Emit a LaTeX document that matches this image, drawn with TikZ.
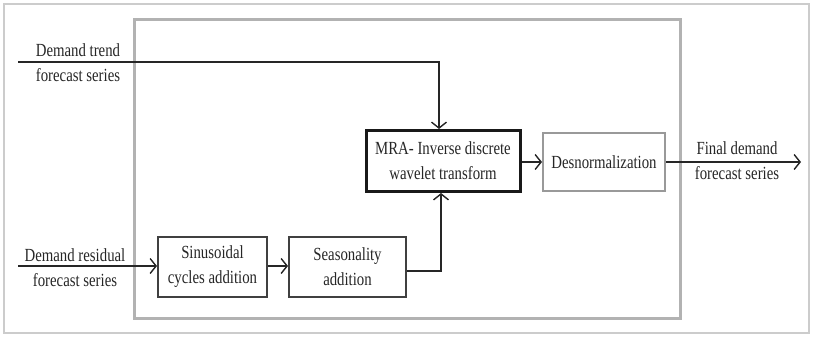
\documentclass[tikz,border=0pt]{standalone}
\usepackage{fontspec}
\setmainfont[FakeStretch=0.8]{Liberation Serif}
\usetikzlibrary{arrows.meta}
\begin{document}
\begin{tikzpicture}[x=1pt,y=-1pt,
  every node/.style={font=\fontsize{18.5}{25}\selectfont, text=black!85, align=center, inner sep=0pt},
  box/.style={draw=black!75, line width=2pt, rectangle},
  lbl/.style={},
  conn/.style={draw=black!85, line width=1.4pt},
  arr/.style={conn, -{Straight Barb[length=6pt,width=15pt,line width=1.4pt]}}]
\useasboundingbox (0,0) rectangle (813,337);
\draw[gray!40, line width=1.5pt] (4,4) rectangle (809,333);
\draw[gray!60, line width=3pt] (134,20) rectangle (680,318);
% boxes
\node[box, draw=black!90, line width=3pt, minimum width=154pt, minimum height=61pt] (mra) at (443,161) {MRA- Inverse discrete\\wavelet transform};
\node[box, draw=gray!80, minimum width=122pt, minimum height=58pt] (desn) at (604,162) {Desnormalization};
\node[box, minimum width=109pt, minimum height=60pt] (sin) at (212.5,267) {Sinusoidal\\cycles addition};
\node[box, minimum width=117pt, minimum height=60pt] (seas) at (347.5,267) {Seasonality\\addition};
% labels
\node[lbl] (ltrend) at (78,62.5) {Demand trend\\forecast series};
\node[lbl] (lres) at (75,267.5) {Demand residual\\forecast series};
\node[lbl] (lout) at (737,160.5) {Final demand\\forecast series};
% coordinates
\coordinate (tin) at (18,62);
\coordinate (rin) at (18,266);
\coordinate (out) at (801,162);
% connectors
\draw[arr] (tin) -| ([xshift=-4pt]mra.north);
\draw[arr] ([yshift=-4pt]seas.east) -| ([xshift=-2pt]mra.south);
\draw[arr] (rin) -- (rin -| sin.west);
\draw[arr] (sin.east |- rin) -- (seas.west |- rin);
\draw[arr] (mra.east |- desn.center) -- (desn.west);
\draw[arr] (desn.east) -- (out);
\end{tikzpicture}
\end{document}
